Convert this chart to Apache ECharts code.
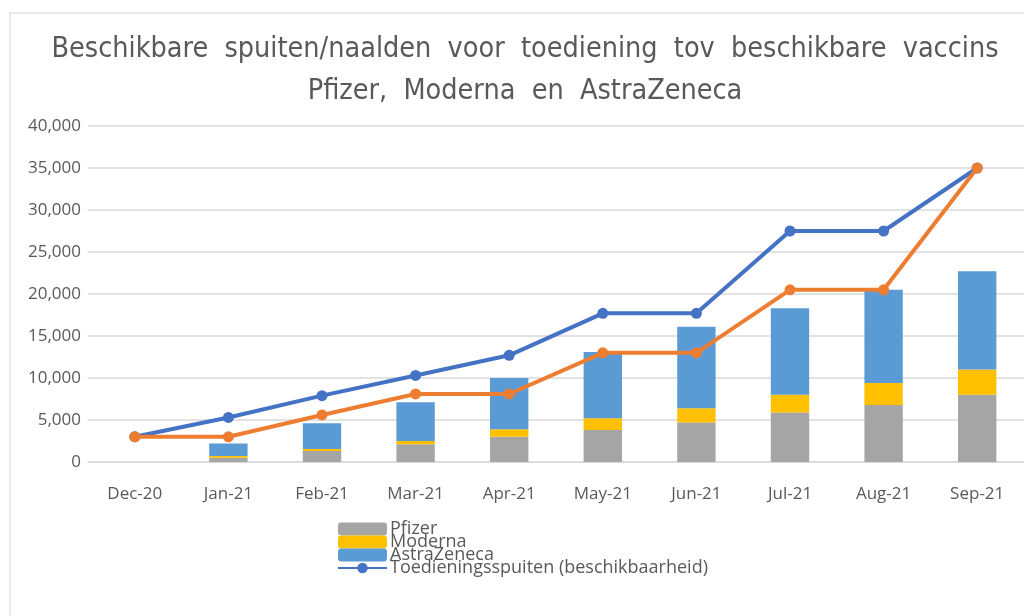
<!DOCTYPE html>
<html>
<head>
<meta charset="utf-8">
<script src="https://cdn.jsdelivr.net/npm/echarts@6/dist/echarts.min.js"></script>
<style>
  html, body { margin: 0; padding: 0; background: #fff; }
  #chart { width: 1024px; height: 616px; }
</style>
</head>
<body>
<div id="chart"></div>
<script>
// categorieën (maanden)
const months = ['Dec-20', 'Jan-21', 'Feb-21', 'Mar-21', 'Apr-21', 'May-21', 'Jun-21', 'Jul-21', 'Aug-21', 'Sep-21'];

// gestapelde vaccins
const pfizer = [null, 500, 1300, 2100, 3000, 3800, 4700, 5900, 6800, 8000];
const moderna = [null, 200, 250, 400, 900, 1400, 1700, 2100, 2600, 3000];
const astraZeneca = [null, 1500, 3050, 4600, 6100, 7900, 9700, 10300, 11100, 11700];

// lijnen
const spuiten = [3000, 5300, 7900, 10300, 12700, 17700, 17700, 27500, 27500, 35000];
const vaccinsTotaal = [3000, 3000, 5600, 8100, 8100, 13000, 13000, 20500, 20500, 35000];

const yTicks = [0, 5000, 10000, 15000, 20000, 25000, 30000, 35000, 40000];

const chart = echarts.init(document.getElementById('chart'));
const textColor = '#595959';
const font = 'Open Sans';

const barSeries = (name, data, color) => ({
  name: name,
  type: 'bar',
  stack: 'vaccins',
  data: data,
  barWidth: '41%',
  itemStyle: { color: color },
  z: 2
});

const lineSeries = (name, data, color) => ({
  name: name,
  type: 'line',
  data: data,
  symbol: 'circle',
  symbolSize: 11,
  lineStyle: { color: color, width: 4 },
  itemStyle: { color: color },
  z: 3
});

chart.setOption({
  animation: false,
  graphic: [{
    type: 'rect',
    shape: { x: 10, y: 13, width: 1030, height: 620 },
    style: { fill: 'none', stroke: '#e3e3e3', lineWidth: 1.5 },
    silent: true
  }],
  title: {
    text: 'Beschikbare  spuiten/naalden  voor  toediening  tov  beschikbare  vaccins\nPfizer,  Moderna  en  AstraZeneca',
    left: 525,
    top: 29,
    padding: 0,
    textAlign: 'center',
    textStyle: {
      fontFamily: 'DejaVu Sans Condensed',
      fontWeight: 'normal',
      fontSize: 28.5,
      lineHeight: 42,
      color: textColor
    }
  },
  legend: {
    orient: 'vertical',
    left: 337,
    top: 520,
    padding: 0,
    itemWidth: 49,
    itemHeight: 13,
    itemGap: -5,
    data: ['Pfizer', 'Moderna', 'AstraZeneca', 'Toedieningsspuiten (beschikbaarheid)'],
    textStyle: {
      fontFamily: font,
      fontSize: 18,
      lineHeight: 13,
      color: textColor,
      padding: [0, 0, 0, -2]
    }
  },
  grid: {
    left: 88,
    top: 126,
    width: 940,
    height: 336
  },
  xAxis: {
    type: 'category',
    data: months,
    axisLine: { lineStyle: { color: '#d9d9d9', width: 1.5 } },
    axisTick: { length: 9, lineStyle: { color: '#d9d9d9', width: 1.5 } },
    axisLabel: { fontFamily: font, fontSize: 17, color: textColor, margin: 24 }
  },
  yAxis: {
    type: 'value',
    min: 0,
    max: 40000,
    interval: 5000,
    axisLine: { show: false },
    axisTick: { show: false },
    splitLine: { lineStyle: { color: '#d9d9d9', width: 1.5 } },
    axisLabel: {
      fontFamily: font,
      fontSize: 17,
      color: textColor,
      margin: 7,
      formatter: v => yTicks.includes(v) ? v.toLocaleString('en-US') : ''
    }
  },
  series: [
    barSeries('Pfizer', pfizer, '#A5A5A5'),
    barSeries('Moderna', moderna, '#FFC000'),
    barSeries('AstraZeneca', astraZeneca, '#5B9BD5'),
    lineSeries('Toedieningsspuiten (beschikbaarheid)', spuiten, '#4472C4'),
    lineSeries('Beschikbare vaccins', vaccinsTotaal, '#ED7D31')
  ]
});
</script>
</body>
</html>
